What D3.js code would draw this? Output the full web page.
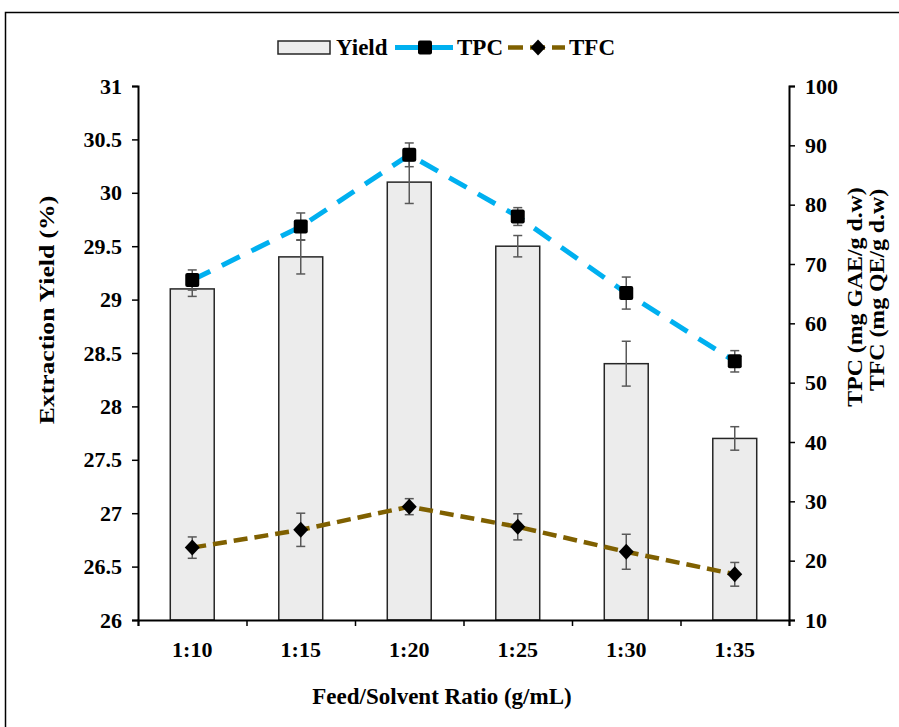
<!DOCTYPE html>
<html>
<head>
<meta charset="utf-8">
<script src="https://cdn.jsdelivr.net/npm/d3@7"></script>
<style>
  body { margin: 0; background: #fff; }
  text { font-family: "Liberation Serif", "Times New Roman", serif; font-weight: bold; fill: #000; }
</style>
</head>
<body>
<svg id="chart"></svg>
<script>
// data
var ratios = ["1:10", "1:15", "1:20", "1:25", "1:30", "1:35"];
var yieldVals = [29.1, 29.4, 30.1, 29.5, 28.4, 27.7];
var yieldErr = [0.07, 0.16, 0.2, 0.1, 0.21, 0.11];
var tpcVals = [67.3, 76.3, 88.4, 78.0, 65.1, 53.6];
var tpcErr = [1.7, 2.3, 2.0, 1.5, 2.7, 1.8];
var tfcVals = [22.2, 25.2, 29.1, 25.7, 21.5, 17.7];
var tfcErr = [1.8, 2.8, 1.35, 2.2, 2.95, 2.0];
var leftTicks = [26, 26.5, 27, 27.5, 28, 28.5, 29, 29.5, 30, 30.5, 31];
var rightTicks = [10, 20, 30, 40, 50, 60, 70, 80, 90, 100];

var W = 899, H = 727;
var mLeft = 138, mRight = 789, mTop = 86, mBottom = 620;
var tickFont = "22px", titleFont = "20px", legendFont = "23px";

var svg = d3.select("#chart")
  .attr("width", W)
  .attr("height", H);

// outer frame
svg.append("rect")
  .attr("x", 5.5).attr("y", 12.5)
  .attr("width", 900).attr("height", 730)
  .attr("fill", "none")
  .attr("stroke", "#000")
  .attr("stroke-width", 1.5);

var x = d3.scaleBand().domain(ratios).range([mLeft, mRight]).padding(0);
var yL = d3.scaleLinear().domain([26, 31]).range([mBottom, mTop]);
var yR = d3.scaleLinear().domain([10, 100]).range([mBottom, mTop]);

var barW = x.bandwidth() * 0.405;
function cx(d) { return x(d) + x.bandwidth() / 2; }

// bars
svg.append("g").selectAll("rect")
  .data(ratios)
  .enter().append("rect")
  .attr("x", function(d) { return cx(d) - barW / 2; })
  .attr("y", function(d, i) { return yL(yieldVals[i]); })
  .attr("width", barW)
  .attr("height", function(d, i) { return yL(26) - yL(yieldVals[i]); })
  .attr("fill", "#ececec")
  .attr("stroke", "#262626")
  .attr("stroke-width", 1.5);

function errorBars(vals, errs, scale) {
  var g = svg.append("g")
    .attr("stroke", "#595959")
    .attr("stroke-width", 1.5)
    .attr("fill", "none");
  var eb = g.selectAll("g")
    .data(ratios)
    .enter().append("g");
  eb.append("line")
    .attr("x1", cx).attr("x2", cx)
    .attr("y1", function(d, i) { return scale(vals[i] - errs[i]); })
    .attr("y2", function(d, i) { return scale(vals[i] + errs[i]); });
  [-1, 1].forEach(function(s) {
    eb.append("line")
      .attr("x1", function(d) { return cx(d) - 4.5; })
      .attr("x2", function(d) { return cx(d) + 4.5; })
      .attr("y1", function(d, i) { return scale(vals[i] + s * errs[i]); })
      .attr("y2", function(d, i) { return scale(vals[i] + s * errs[i]); });
  });
}

errorBars(yieldVals, yieldErr, yL);

var line = d3.line()
  .x(function(d) { return d[0]; })
  .y(function(d) { return d[1]; });

function ptsFor(vals) {
  return ratios.map(function(r, i) { return [cx(r), yR(vals[i])]; });
}

svg.append("path")
  .attr("d", line(ptsFor(tpcVals)))
  .attr("fill", "none")
  .attr("stroke", "#00b0f0")
  .attr("stroke-width", 5)
  .attr("stroke-dasharray", "20,13");

svg.append("path")
  .attr("d", line(ptsFor(tfcVals)))
  .attr("fill", "none")
  .attr("stroke", "#7f6000")
  .attr("stroke-width", 4.5)
  .attr("stroke-dasharray", "14,7");

errorBars(tpcVals, tpcErr, yR);
errorBars(tfcVals, tfcErr, yR);

// markers
svg.append("g").selectAll("rect")
  .data(ratios)
  .enter().append("rect")
  .attr("x", function(d) { return cx(d) - 7; })
  .attr("y", function(d, i) { return yR(tpcVals[i]) - 7; })
  .attr("width", 14).attr("height", 14)
  .attr("rx", 2)
  .attr("fill", "#000");

var diamond = "M0,-8L7.5,0L0,8L-7.5,0Z";
svg.append("g").selectAll("path")
  .data(ratios)
  .enter().append("path")
  .attr("transform", function(d, i) { return "translate(" + cx(d) + "," + yR(tfcVals[i]) + ")"; })
  .attr("d", diamond)
  .attr("fill", "#000");

// axes
function styleAxis(g) {
  g.selectAll("path").attr("stroke", "#000").attr("stroke-width", 2);
  g.selectAll("line").attr("stroke", "#000").attr("stroke-width", 1.5);
  g.selectAll("text")
    .style("font-family", "'Liberation Serif', serif")
    .style("font-weight", "bold")
    .style("font-size", tickFont)
    .attr("fill", "#000");
}

var axL = svg.append("g")
  .attr("transform", "translate(" + mLeft + ",0)")
  .call(d3.axisLeft(yL).tickValues(leftTicks).tickSizeInner(6).tickSizeOuter(6).tickPadding(10)
    .tickFormat(function(d) { return String(d); }));
styleAxis(axL);

var axR = svg.append("g")
  .attr("transform", "translate(" + mRight + ",0)")
  .call(d3.axisRight(yR).tickValues(rightTicks).tickSizeInner(6).tickSizeOuter(6).tickPadding(10));
styleAxis(axR);

var xTickScale = d3.scaleLinear().domain([0, ratios.length]).range([mLeft, mRight]);
var axX = svg.append("g")
  .attr("transform", "translate(0," + mBottom + ")")
  .call(d3.axisBottom(xTickScale).tickValues(d3.range(ratios.length + 1)).tickSize(6).tickFormat(""));
styleAxis(axX);

svg.append("g").selectAll("text")
  .data(ratios)
  .enter().append("text")
  .attr("x", cx)
  .attr("y", 657)
  .attr("text-anchor", "middle")
  .style("font-size", tickFont)
  .text(function(d) { return d; });

// axis titles (vertical ones are drawn a bit elongated, like the original)
svg.append("text")
  .attr("transform", "translate(54,310) rotate(-90) scale(1.28,1)")
  .attr("text-anchor", "middle")
  .style("font-size", titleFont)
  .text("Extraction Yield (%)");

svg.append("text")
  .attr("transform", "translate(862,297) rotate(-90) scale(1.19,1)")
  .attr("text-anchor", "middle")
  .style("font-size", titleFont)
  .text("TPC (mg GAE/g d.w)");

svg.append("text")
  .attr("transform", "translate(884,290) rotate(-90) scale(1.19,1)")
  .attr("text-anchor", "middle")
  .style("font-size", titleFont)
  .text("TFC (mg QE/g d.w)");

svg.append("text")
  .attr("x", 442)
  .attr("y", 704)
  .attr("text-anchor", "middle")
  .style("font-size", "23px")
  .text("Feed/Solvent Ratio (g/mL)");

// legend
var lg = svg.append("g");
lg.append("rect")
  .attr("x", 278).attr("y", 41)
  .attr("width", 52).attr("height", 13)
  .attr("fill", "#ececec")
  .attr("stroke", "#262626")
  .attr("stroke-width", 1.5);
lg.append("text").attr("x", 336).attr("y", 55).style("font-size", legendFont).text("Yield");

lg.append("line")
  .attr("x1", 395).attr("x2", 453).attr("y1", 47.5).attr("y2", 47.5)
  .attr("stroke", "#00b0f0").attr("stroke-width", 5);
lg.append("rect")
  .attr("x", 418).attr("y", 40.5).attr("width", 14).attr("height", 14)
  .attr("rx", 2).attr("fill", "#000");
lg.append("text").attr("x", 457).attr("y", 55).style("font-size", legendFont).text("TPC");

lg.append("line")
  .attr("x1", 508).attr("x2", 565).attr("y1", 47.5).attr("y2", 47.5)
  .attr("stroke", "#7f6000").attr("stroke-width", 4.5)
  .attr("stroke-dasharray", "15,7");
lg.append("path")
  .attr("transform", "translate(538,47.5)")
  .attr("d", diamond)
  .attr("fill", "#000");
lg.append("text").attr("x", 569).attr("y", 55).style("font-size", legendFont).text("TFC");
</script>
</body>
</html>
